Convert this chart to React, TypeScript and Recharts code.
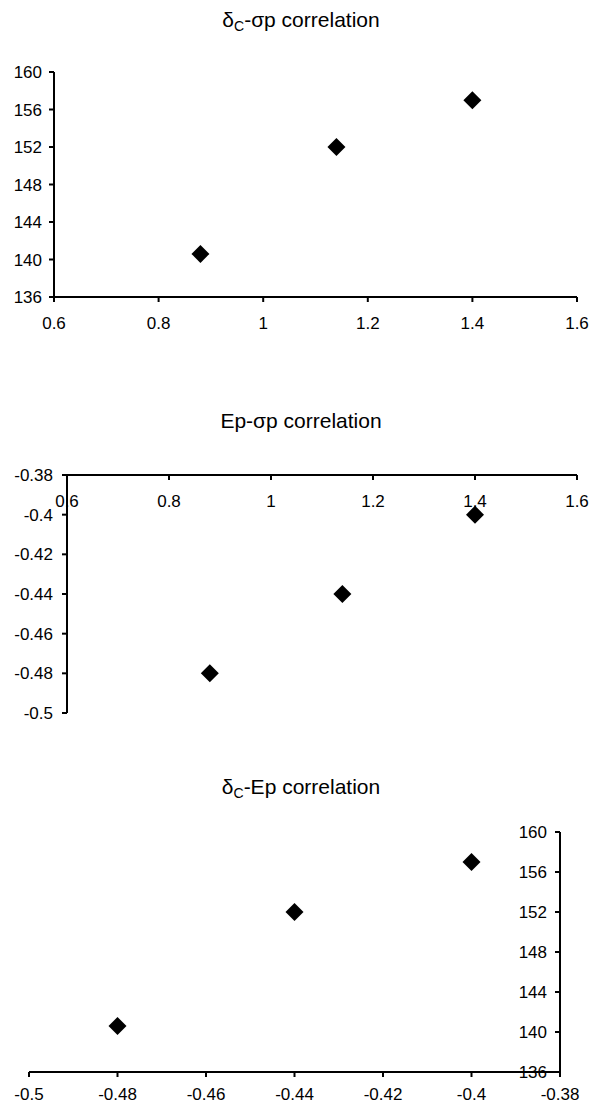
import React from 'react';
import { ScatterChart, Scatter, XAxis, YAxis } from 'recharts';

// Data
const sigmaP = [0.88, 1.14, 1.4];
const deltaC = [140.6, 152, 157];
const ep = [-0.48, -0.44, -0.4];

const sigmaTicks = [0.6, 0.8, 1, 1.2, 1.4, 1.6];
const deltaTicks = [136, 140, 144, 148, 152, 156, 160];
const epTicks = [-0.5, -0.48, -0.46, -0.44, -0.42, -0.4, -0.38];

const data1 = sigmaP.map((x, i) => ({ x, y: deltaC[i] }));
const data2 = sigmaP.map((x, i) => ({ x, y: ep[i] }));
const data3 = ep.map((x, i) => ({ x, y: deltaC[i] }));

const FONT = "Arial, 'Liberation Sans', sans-serif";
const tickStyle = { fill: '#000', fontSize: 17, fontFamily: FONT };
const lineStyle = { stroke: '#000', strokeWidth: 2 };

const Diamond = (props: any) => {
  const { cx, cy } = props;
  const r = 9;
  return <path d={`M${cx},${cy - r}L${cx + r},${cy}L${cx},${cy + r}L${cx - r},${cy}Z`} fill="#000" />;
};

const Title = ({ y, children }: { y: number; children: React.ReactNode }) => (
  <text x={301} y={y} textAnchor="middle" fontSize={21} fontFamily={FONT} fill="#000">
    {children}
  </text>
);

export default function App() {
  return (
    <div style={{ position: 'absolute', left: 0, top: 0, width: 589, height: 1104, background: '#fff' }}>
      <div style={{ position: 'absolute', left: 0, top: 0 }}>
        <ScatterChart width={589} height={340} margin={{ top: 72, right: 12, bottom: 3, left: 4 }}>
          <XAxis type="number" dataKey="x" domain={[0.6, 1.6]} ticks={sigmaTicks} height={40}
            tick={tickStyle} tickSize={5} tickMargin={15} axisLine={lineStyle} tickLine={lineStyle} interval={0} />
          <YAxis type="number" dataKey="y" domain={[136, 160]} ticks={deltaTicks} width={50}
            tick={tickStyle} tickSize={5} tickMargin={7} axisLine={lineStyle} tickLine={lineStyle} interval={0} />
          <Scatter data={data1} shape={Diamond} isAnimationActive={false} />
        </ScatterChart>
      </div>
      <div style={{ position: 'absolute', left: 0, top: 400 }}>
        <ScatterChart width={589} height={330} margin={{ top: 75, right: 12, bottom: 17, left: 7 }}>
          <XAxis type="number" dataKey="x" orientation="top" mirror domain={[0.6, 1.6]} ticks={sigmaTicks}
            tick={tickStyle} tickSize={5} tickMargin={15} axisLine={lineStyle} tickLine={lineStyle} interval={0} />
          <YAxis type="number" dataKey="y" domain={[-0.5, -0.38]} ticks={epTicks} width={60}
            tick={tickStyle} tickSize={5} tickMargin={9} axisLine={lineStyle} tickLine={lineStyle} interval={0} />
          <Scatter data={data2} shape={Diamond} isAnimationActive={false} />
        </ScatterChart>
      </div>
      <div style={{ position: 'absolute', left: 0, top: 770 }}>
        <ScatterChart width={589} height={334} margin={{ top: 62, right: 29, bottom: 2, left: 29 }}>
          <XAxis type="number" dataKey="x" domain={[-0.5, -0.38]} ticks={epTicks} height={30}
            tick={tickStyle} tickSize={5} tickMargin={11} axisLine={lineStyle} tickLine={lineStyle} interval={0} />
          <YAxis type="number" dataKey="y" orientation="right" mirror domain={[136, 160]} ticks={deltaTicks}
            tick={tickStyle} tickSize={5} tickMargin={8} axisLine={lineStyle} tickLine={lineStyle} interval={0} />
          <Scatter data={data3} shape={Diamond} isAnimationActive={false} />
        </ScatterChart>
      </div>
      <svg width={589} height={1104} style={{ position: 'absolute', left: 0, top: 0, pointerEvents: 'none' }}>
        <Title y={27}>
          δ<tspan fontSize={14} dy={4}>C</tspan><tspan dy={-4}>-σp correlation</tspan>
        </Title>
        <Title y={428}>Ep-σp correlation</Title>
        <Title y={794}>
          δ<tspan fontSize={14} dy={4}>C</tspan><tspan dy={-4}>-Ep correlation</tspan>
        </Title>
      </svg>
    </div>
  );
}
